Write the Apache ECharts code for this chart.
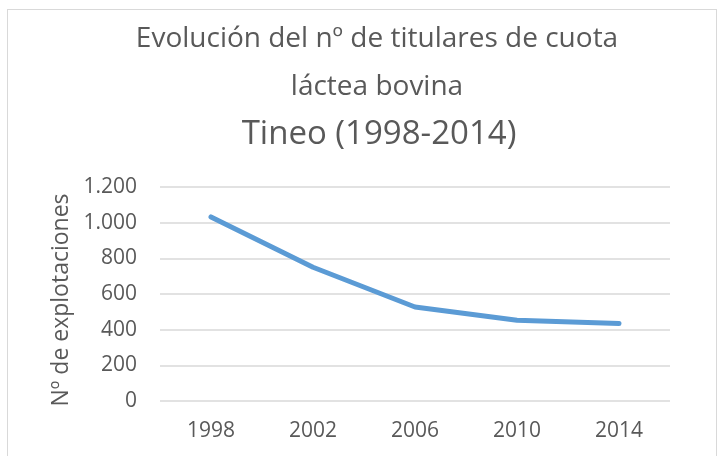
<!DOCTYPE html>
<html>
<head>
<meta charset="utf-8">
<script src="https://cdn.jsdelivr.net/npm/echarts@6/dist/echarts.min.js"></script>
<style>
  html, body { margin: 0; padding: 0; background: #fff; }
  #chart { width: 726px; height: 456px; }
  #frame { position: absolute; left: 7px; top: 9px; width: 710px; height: 460px; border: 1px solid #d9d9d9; box-sizing: border-box; pointer-events: none; }
</style>
</head>
<body>
<div id="chart"></div>
<div id="frame"></div>
<script>
// data
const years = ['1998', '2002', '2006', '2010', '2014'];
const holders = [1032, 750, 527, 453, 434];
const yTicks = [0, 200, 400, 600, 800, 1000, 1200];

const grey = '#595959';
const font = 'Open Sans';

const chart = echarts.init(document.getElementById('chart'), null, { renderer: 'canvas' });

chart.setOption({
  animation: false,
  title: [
    {
      text: 'Evolución del nº de titulares de cuota\nláctea bovina',
      left: 372, top: 10, textAlign: 'center',
      textStyle: { fontFamily: font, fontSize: 28, fontWeight: 'normal', color: grey, lineHeight: 48 }
    },
    {
      text: 'Tineo (1998-2014)',
      left: 374, top: 109, textAlign: 'center',
      textStyle: { fontFamily: font, fontSize: 33, fontWeight: 'normal', color: grey, lineHeight: 42 }
    }
  ],
  grid: { left: 160, right: 56, top: 187, bottom: 55 },
  xAxis: {
    type: 'category',
    data: years,
    boundaryGap: true,
    axisLine: { show: false },
    axisTick: { show: false },
    axisLabel: { color: grey, fontFamily: font, fontSize: 21, margin: 20 }
  },
  yAxis: {
    type: 'value',
    min: yTicks[0],
    max: yTicks[yTicks.length - 1],
    interval: 200,
    name: 'Nº de explotaciones',
    nameLocation: 'middle',
    nameGap: 86,
    nameTextStyle: { color: grey, fontFamily: font, fontSize: 23, padding: [0, 12, 0, 0] },
    axisLabel: {
      color: grey, fontFamily: font, fontSize: 21, margin: 23,
      formatter: v => v >= 1000 ? (v / 1000).toFixed(3) : String(v)
    },
    splitLine: { lineStyle: { color: '#d9d9d9', width: 1.5 } }
  },
  series: [{
    type: 'line',
    data: holders,
    symbol: 'none',
    lineStyle: { color: '#5b9bd5', width: 5, cap: 'round', join: 'round' }
  }]
});
</script>
</body>
</html>
